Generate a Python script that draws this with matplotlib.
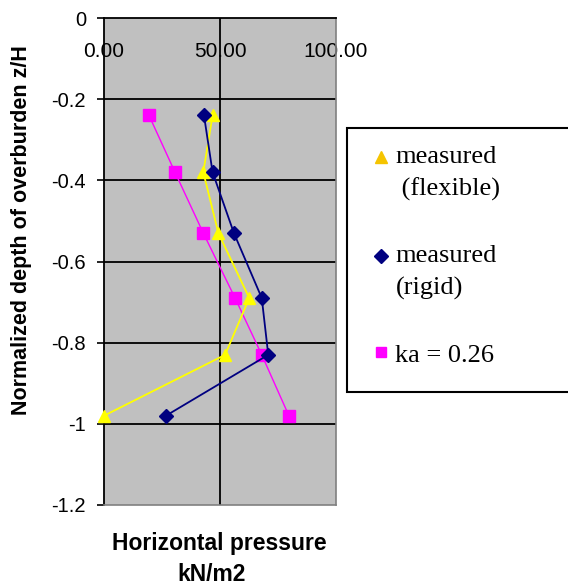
import matplotlib
matplotlib.use("Agg")
import matplotlib.pyplot as plt
from matplotlib.patches import Rectangle
from matplotlib.lines import Line2D
from matplotlib.legend_handler import HandlerLine2D

depth = [-0.24, -0.38, -0.53, -0.69, -0.83, -0.98]
flexible = [46.8, 42.8, 49.3, 62.6, 52.2, 0.0]
rigid = [43.1, 46.8, 56.0, 68.0, 70.8, 26.7]
ka026 = [19.4, 30.6, 42.8, 56.5, 68.0, 79.7]

xticks = [0, 50, 100]
xticklabels = ["0.00", "50.00", "100.00"]
yticks = [0, -0.2, -0.4, -0.6, -0.8, -1.0, -1.2]
yticklabels = ["0", "-0.2", "-0.4", "-0.6", "-0.8", "-1", "-1.2"]

sans = ["Liberation Sans", "DejaVu Sans"]
serif = ["Liberation Serif", "DejaVu Serif"]


class FirstLineHandler(HandlerLine2D):
    """Place the legend marker next to the first line of a two-line label."""

    def __init__(self, shift, **kw):
        super().__init__(**kw)
        self.shift = shift

    def create_artists(self, legend, orig_handle, xdescent, ydescent,
                       width, height, fontsize, trans):
        return super().create_artists(legend, orig_handle, xdescent,
                                      ydescent - 2 * self.shift, width,
                                      height, fontsize, trans)


fig = plt.figure(figsize=(5.68, 5.85), dpi=100)
W, H = 568, 585
ax = fig.add_axes([104 / W, 1 - 505 / H, 232 / W, 487 / H])
ax.set_facecolor("#c0c0c0")
ax.set_xlim(0, 100)
ax.set_ylim(-1.2, 0)

ax.plot(flexible, depth, color="#ffff00", lw=1.3, marker="^", ms=9,
        mfc="#ffff00", mec="#ffff00", zorder=3, clip_on=False)
ax.plot(rigid, depth, color="#000080", lw=1.3, marker="D", ms=7,
        mfc="#000080", mec="#000080", zorder=4)
ax.plot(ka026, depth, color="#ff00ff", lw=1.0, marker="s", ms=8,
        mfc="#ff00ff", mec="#ff00ff", zorder=2)

# grid
for y in yticks[1:-1]:
    ax.axhline(y, color="black", lw=1.3, zorder=1)
ax.axvline(50, color="black", lw=1.3, zorder=1)

for s in ["right", "bottom"]:
    ax.spines[s].set_color("#808080")
    ax.spines[s].set_linewidth(1.2)
for s in ["left", "top"]:
    ax.spines[s].set_color("black")
    ax.spines[s].set_linewidth(1.3)

ax.set_yticks(yticks)
ax.set_yticklabels(yticklabels, fontfamily=sans, fontsize=14.5)
ax.tick_params(axis="y", direction="out", length=5, width=1.2, pad=8)

ax.set_xticks(xticks)
ax.set_xticklabels(xticklabels, fontfamily=sans, fontsize=15)
ax.xaxis.tick_top()
ax.tick_params(axis="x", direction="in", length=0, pad=-31)

fig.text(22 / W, 1 - 230 / H, "Normalized depth of overburden z/H",
         rotation=90, ha="center", va="center", fontfamily=sans,
         fontsize=15.5, fontweight="bold")

fig.text(219 / W, 1 - 550 / H, "Horizontal pressure", ha="center",
         va="baseline", fontfamily=sans, fontsize=16.5, fontweight="bold")
fig.text(212 / W, 1 - 581 / H, "kN/m2", ha="center", va="baseline",
         fontfamily=sans, fontsize=16.5, fontweight="bold")

# legend box
fig.patches.append(Rectangle((347 / W, 1 - 392 / H), 240 / W, 264 / H,
                             transform=fig.transFigure, facecolor="white",
                             edgecolor="black", lw=1.5))
h_flex = Line2D([], [], ls="none", marker="^", ms=9, mfc="#f5c400", mec="#f5c400")
h_rigid = Line2D([], [], ls="none", marker="D", ms=7, mfc="#000080", mec="#000080")
h_ka = Line2D([], [], ls="none", marker="s", ms=7, mfc="#ff00ff", mec="#ff00ff")
labels = ["measured\n (flexible)", "measured\n(rigid)", "ka = 0.26"]
leg = fig.legend([h_flex, h_rigid, h_ka], labels, loc="upper left",
                 bbox_to_anchor=(373 / W, 1 - 146 / H), frameon=False,
                 borderpad=0, borderaxespad=0,
                 prop={"family": serif, "size": 19}, handlelength=0.6,
                 handletextpad=0.25, labelspacing=1.65,
                 handler_map={h_flex: FirstLineHandler(11.5),
                              h_rigid: FirstLineHandler(11.5)})
for t in leg.get_texts():
    t.set_linespacing(1.55)

fig.savefig("out.png", dpi=100)
